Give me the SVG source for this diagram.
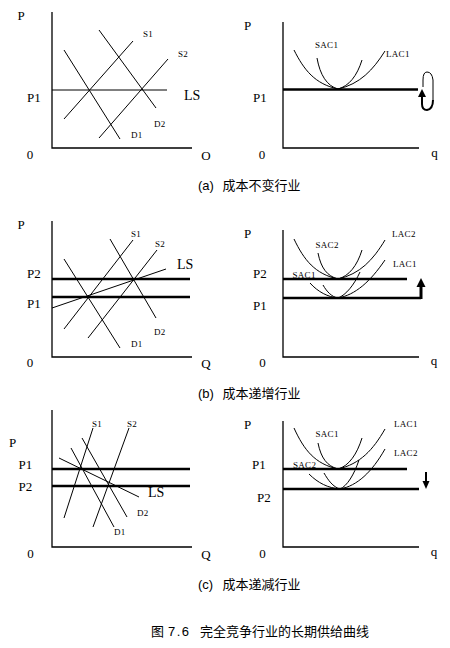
<svg xmlns="http://www.w3.org/2000/svg" width="450" height="648" viewBox="0 0 450 648">
<style>
.ax{stroke:#000;stroke-width:1.3;fill:none}
.ln{stroke:#000;stroke-width:1;fill:none}
.thk{stroke:#000;stroke-width:2.5;fill:none}
.cv{stroke:#000;stroke-width:1;fill:none}
.lb{font-family:'Liberation Serif','DejaVu Serif',serif;font-size:13px;fill:#000}
.ls{font-family:'Liberation Serif','DejaVu Serif',serif;font-size:14px;fill:#000}
.sm{font-family:'Liberation Serif','DejaVu Serif',serif;font-size:9px;fill:#000;letter-spacing:0.3px}
.cap{font-family:'Liberation Sans','Noto Sans CJK SC',sans-serif;font-size:13px;fill:#000}
.mid{text-anchor:middle}
</style>
<rect width="450" height="648" fill="#fff"/>

<!-- (a) market -->
<g id="panel-a-market">
<path class="ax" d="M52,12 V148 H192"/>
<line class="ln" x1="52" y1="90" x2="167" y2="90"/>
<line class="ln" x1="64" y1="119" x2="133" y2="41"/>
<line class="ln" x1="99" y1="138" x2="168" y2="59"/>
<line class="ln" x1="64" y1="50" x2="120" y2="139"/>
<line class="ln" x1="99" y1="30" x2="156" y2="108"/>
<text class="lb mid" x="21" y="20">P</text>
<text class="lb" x="27" y="101.5">P1</text>
<text class="ls" x="184" y="99.5">LS</text>
<text class="lb mid" x="30" y="159">0</text>
<text class="lb mid" x="206" y="159.5">O</text>
<text class="sm" x="143" y="36.5">S1</text>
<text class="sm" x="178" y="57">S2</text>
<text class="sm" x="154" y="127">D2</text>
<text class="sm" x="131" y="137.5">D1</text>
</g>

<!-- (a) firm -->
<g id="panel-a-firm">
<path class="ax" d="M283,22 V148 H419"/>
<line class="thk" x1="283" y1="89.5" x2="418" y2="89.5"/>
<path class="cv" d="M294,50 C304,70 315,84 338,89 C360,84 373,70 385,51"/>
<path class="cv" d="M317,58 C320,75 327,86 338,89 C349,86 357,76 362,60"/>
<path d="M422,96 L422,104 Q422,110 427,110 Q433,109 433,100" stroke="#000" stroke-width="2" fill="none"/>
<path d="M433,100 L433,80 Q432,72 427,72 Q423,72 423,80 L423,87" stroke="#000" stroke-width="1" fill="none"/>
<polygon points="422,89 418,97 426,97" fill="#000"/>
<text class="lb mid" x="247.5" y="29.5">P</text>
<text class="lb" x="253" y="101.5">P1</text>
<text class="lb mid" x="262" y="158.5">0</text>
<text class="lb mid" x="434.5" y="157">q</text>
<text class="sm" x="315" y="48">SAC1</text>
<text class="sm" x="386" y="57">LAC1</text>
</g>

<text class="cap" y="190"><tspan x="198">(a)</tspan><tspan x="222.5">成本不变行业</tspan></text>

<!-- (b) market -->
<g id="panel-b-market">
<path class="ax" d="M52,221 V357 H192"/>
<line class="thk" x1="52" y1="279" x2="190" y2="279"/>
<line class="thk" x1="52" y1="297" x2="190" y2="297"/>
<line class="ln" x1="52" y1="308" x2="166" y2="269"/>
<line class="ln" x1="64" y1="329" x2="133" y2="240"/>
<line class="ln" x1="88" y1="338" x2="157" y2="250"/>
<line class="ln" x1="64" y1="259" x2="120" y2="348"/>
<line class="ln" x1="110" y1="239" x2="156" y2="318"/>
<text class="lb mid" x="21" y="228.5">P</text>
<text class="lb" x="27" y="277.5">P2</text>
<text class="lb" x="27" y="308">P1</text>
<text class="ls" x="177" y="268.5">LS</text>
<text class="lb mid" x="30" y="367">0</text>
<text class="lb mid" x="206" y="367.5">Q</text>
<text class="sm" x="131" y="236.5">S1</text>
<text class="sm" x="155" y="247">S2</text>
<text class="sm" x="154" y="335">D2</text>
<text class="sm" x="131" y="347">D1</text>
</g>

<!-- (b) firm -->
<g id="panel-b-firm">
<path class="ax" d="M283,230 V357 H419"/>
<line class="thk" x1="283" y1="279" x2="407" y2="279"/>
<line class="thk" x1="283" y1="298" x2="421" y2="298"/>
<line x1="421" y1="299" x2="421" y2="285" stroke="#000" stroke-width="3"/>
<polygon points="421,278 416.5,287 425.5,287" fill="#000"/>
<path class="cv" d="M294,239 C304,260 315,274 338,279 C360,274 373,260 385,240"/>
<path class="cv" d="M318,253 C321,268 327,276 338,279 C349,276 357,266 362,250"/>
<path class="cv" d="M310,283 C318,292 328,297 338,298 C355,295 370,282 385,260"/>
<path class="cv" d="M323,285 C327,292 332,297 338,298 C346,295 354,285 360,272"/>
<text class="lb mid" x="247.5" y="238">P</text>
<text class="lb" x="253" y="278">P2</text>
<text class="lb" x="253" y="310">P1</text>
<text class="lb mid" x="262.5" y="367">0</text>
<text class="lb mid" x="434" y="365">q</text>
<text class="sm" x="315.5" y="247.5">SAC2</text>
<text class="sm" x="392" y="237">LAC2</text>
<text class="sm" x="393" y="267">LAC1</text>
<text class="sm" x="292.5" y="277.5">SAC1</text>
</g>

<text class="cap" y="398"><tspan x="198">(b)</tspan><tspan x="222.5">成本递增行业</tspan></text>

<!-- (c) market -->
<g id="panel-c-market">
<path class="ax" d="M52,410 V547 H192"/>
<line class="thk" x1="52" y1="469" x2="190" y2="469"/>
<line class="thk" x1="52" y1="486" x2="190" y2="486"/>
<line class="ln" x1="59" y1="458" x2="139" y2="497"/>
<line class="ln" x1="64" y1="518" x2="93" y2="428"/>
<line class="ln" x1="93" y1="527" x2="129" y2="428"/>
<line class="ln" x1="71" y1="448" x2="114" y2="527"/>
<line class="ln" x1="82" y1="438" x2="127" y2="517"/>
<text class="lb mid" x="12.5" y="447">P</text>
<text class="lb" x="18.5" y="469">P1</text>
<text class="lb" x="18.5" y="490.5">P2</text>
<text class="ls" x="148" y="497">LS</text>
<text class="lb mid" x="30.5" y="557.5">0</text>
<text class="lb mid" x="206" y="558.5">Q</text>
<text class="sm" x="92" y="426.5">S1</text>
<text class="sm" x="127" y="426.5">S2</text>
<text class="sm" x="137" y="516">D2</text>
<text class="sm" x="114" y="535">D1</text>
</g>

<!-- (c) firm -->
<g id="panel-c-firm">
<path class="ax" d="M283,421 V547 H419"/>
<line class="thk" x1="283" y1="469" x2="407" y2="469"/>
<line class="thk" x1="283" y1="489" x2="419" y2="489"/>
<line x1="426" y1="472" x2="426" y2="482" stroke="#000" stroke-width="2"/>
<polygon points="426,489 422.5,481 429.5,481" fill="#000"/>
<path class="cv" d="M294,428 C304,450 315,464 338,469 C360,464 373,450 385,429"/>
<path class="cv" d="M318,443 C321,458 327,466 338,469 C349,466 357,454 362,438"/>
<path class="cv" d="M309,474 C318,483 328,488 340,489 C357,486 372,472 385,449"/>
<path class="cv" d="M324,473 C328,480 333,487 340,489 C347,486 354,475 359,460"/>
<text class="lb mid" x="247.5" y="428.5">P</text>
<text class="lb" x="252" y="468.5">P1</text>
<text class="lb" x="257" y="501.5">P2</text>
<text class="lb mid" x="262.5" y="557.5">0</text>
<text class="lb mid" x="434" y="556">q</text>
<text class="sm" x="315.5" y="436.5">SAC1</text>
<text class="sm" x="394" y="427">LAC1</text>
<text class="sm" x="394" y="456">LAC2</text>
<text class="sm" x="293" y="468">SAC2</text>
</g>

<text class="cap" y="588.5"><tspan x="198">(c)</tspan><tspan x="222.5">成本递减行业</tspan></text>

<text class="cap" y="635.5"><tspan x="151">图</tspan><tspan x="168" letter-spacing="1.5">7.6</tspan><tspan x="200">完全竞争行业的长期供给曲线</tspan></text>
</svg>
